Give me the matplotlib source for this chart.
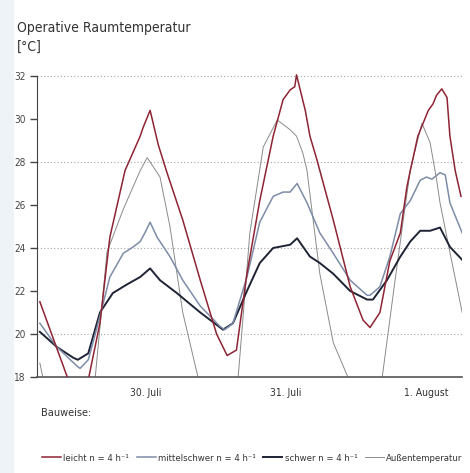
import matplotlib
matplotlib.use("Agg")
import matplotlib.pyplot as plt
from matplotlib import font_manager as fm
from matplotlib.patches import Rectangle

# the original uses a condensed sans; take a narrow face if one is installed
narrow = None
for f in fm.fontManager.ttflist:
    if 'Mono' in f.name or 'Serif' in f.name:
        continue
    if 'Narrow' in f.name or 'Condensed' in f.name or f.stretch in ('condensed', 'semi-condensed'):
        if narrow is None or 'Liberation' in f.name:
            narrow = f
if narrow is not None:
    plt.rcParams['font.family'] = [narrow.name, 'DejaVu Sans']
    plt.rcParams['font.stretch'] = narrow.stretch
else:
    plt.rcParams['font.family'] = ['Roboto', 'DejaVu Sans']

# hours since 29. Juli 0:00, temperatures in degC
red_h = [17.8, 22.5, 24.3, 26.2, 28.1, 29.8, 32.4, 35.0, 35.5, 36.7, 38.1, 39.6, 42.3, 45.3, 48.1, 49.9,
         51.5, 53.3, 55.5, 57.8, 59.5, 60.7, 61.5, 61.8, 63.3, 64.1, 65.3, 66.7, 68.1, 71.0, 73.2, 74.4,
         76.1, 77.8, 79.6, 80.7, 81.3, 81.8, 82.6, 84.4, 85.2, 85.8, 86.7, 87.6, 88.1, 89.0, 90.0]
red_t = [21.5, 18.0, 17.2, 18.0, 20.5, 24.5, 27.6, 29.2, 29.6, 30.4, 28.8, 27.5, 25.3, 22.5, 20.0, 19.0,
         19.25, 22.8, 26.2, 29.2, 30.9, 31.35, 31.5, 32.05, 30.4, 29.2, 28.1, 26.7, 25.3, 22.2, 20.65, 20.3,
         21.0, 23.4, 24.7, 26.8, 27.6, 28.2, 29.2, 30.4, 30.7, 31.1, 31.4, 31.0, 29.2, 27.6, 26.4]

mid_h = [17.8, 20.7, 24.2, 24.7, 26.1, 27.6, 29.8, 32.1, 33.8, 35.0, 35.8, 36.7, 37.9, 40.1, 42.3, 45.3,
         48.7, 49.5, 50.9, 53.3, 55.5, 57.8, 59.5, 60.7, 61.9, 63.6, 65.8, 68.1, 71.0, 73.9, 74.4, 76.1,
         77.8, 79.6, 81.3, 83.0, 84.1, 85.0, 86.4, 87.3, 88.1, 90.2]
mid_t = [20.5, 19.4, 18.5, 18.4, 18.8, 20.3, 22.65, 23.75, 24.05, 24.3, 24.7, 25.2, 24.5, 23.6, 22.5, 21.3,
         20.35, 20.2, 20.5, 22.65, 25.2, 26.4, 26.6, 26.6, 27.0, 26.1, 24.7, 23.75, 22.5, 21.8, 21.8, 22.2,
         23.6, 25.6, 26.2, 27.15, 27.3, 27.2, 27.5, 27.4, 26.1, 24.7]

dark_h = [17.8, 20.7, 23.5, 24.3, 26.1, 28.1, 30.3, 32.7, 35.0, 36.7, 38.4, 41.3, 45.3, 49.2, 50.9, 53.3,
          55.5, 57.8, 60.7, 61.9, 64.1, 65.8, 68.1, 71.0, 73.9, 74.9, 77.3, 79.6, 81.3, 83.0, 84.7, 86.4,
          88.1, 90.2]
dark_t = [20.1, 19.4, 18.9, 18.8, 19.1, 21.0, 21.9, 22.3, 22.65, 23.05, 22.5, 21.9, 21.0, 20.2, 20.5, 22.0,
          23.3, 24.0, 24.15, 24.45, 23.6, 23.3, 22.8, 22.0, 21.6, 21.6, 22.5, 23.6, 24.3, 24.8, 24.8, 24.95,
          24.05, 23.45]

out_h = [17.8, 18.3, 21.0, 24.0, 27.3, 29.3, 32.1, 35.0, 36.2, 38.4, 40.1, 42.3, 44.9, 47.5, 50.0, 51.8,
         53.8, 56.1, 58.5, 60.7, 61.8, 62.9, 63.6, 64.1, 65.8, 68.1, 70.6, 72.5, 75.0, 76.5, 78.4, 80.1,
         81.3, 81.8, 83.3, 84.7, 85.8, 86.4, 88.1, 90.2]
out_t = [18.65, 18.0, 15.0, 14.3, 18.0, 23.8, 25.8, 27.6, 28.2, 27.3, 25.0, 21.0, 18.0, 15.0, 15.0, 18.0,
         24.7, 28.7, 29.95, 29.5, 29.2, 28.4, 27.6, 26.5, 22.8, 19.6, 18.0, 15.5, 15.5, 18.0, 21.9, 25.3,
         27.6, 28.2, 29.8, 28.9, 27.2, 26.1, 23.8, 21.0]

day_pos = [36, 60, 84]
day_labels = ['30. Juli', '31. Juli', '1. August']
y_ticks = [18, 20, 22, 24, 26, 28, 30, 32]
grid_lines = [20, 24, 28, 32]

fig = plt.figure(figsize=(4.70, 4.73), dpi=100)
fig.patches.append(Rectangle((0, 0), 0.028, 1, transform=fig.transFigure,
                             color='#eef3f8', zorder=0))
ax = fig.add_axes([37 / 470, 1 - 377 / 473, 425 / 470, 307.5 / 473])

for g in grid_lines:
    ax.axhline(g, color='#a8a8a8', lw=0.8, ls=(0, (1, 2)), zorder=1)

ax.plot(out_h, out_t, color='#8a8a8a', lw=0.7, label='Außentemperatur', zorder=2)
ax.plot(dark_h, dark_t, color='#1e2435', lw=1.4, label='schwer n = 4 h⁻¹', zorder=3)
ax.plot(mid_h, mid_t, color='#7d8ca8', lw=1.1, label='mittelschwer n = 4 h⁻¹', zorder=3)
ax.plot(red_h, red_t, color='#8e2433', lw=1.1, label='leicht n = 4 h⁻¹', zorder=4)

ax.set_xlim(17.31, 90.17)
ax.set_ylim(18, 32.3)
ax.set_yticks(y_ticks)
ax.set_xticks(day_pos)
ax.set_xticklabels(day_labels)
ax.tick_params(axis='x', length=0, pad=8, labelsize=7.5, colors='#333333')
ax.tick_params(axis='y', length=5, width=1, pad=3, labelsize=7.2, colors='#444444')

for s in ['top', 'right']:
    ax.spines[s].set_visible(False)
ax.spines['left'].set_bounds(18, 32)
ax.spines['left'].set_color('#444444')
ax.spines['bottom'].set_color('#555555')
ax.spines['bottom'].set_linewidth(1.2)

fig.text(17 / 470, 1 - 28 / 473, 'Operative Raumtemperatur', fontsize=10, color='#333333', va='center')
fig.text(17 / 470, 1 - 47 / 473, '[°C]', fontsize=10, color='#333333', va='center')
fig.text(41 / 470, 1 - 413 / 473, 'Bauweise:', fontsize=7.8, color='#333333', va='center')

handles, labels = ax.get_legend_handles_labels()
order = [3, 2, 1, 0]
fig.legend([handles[i] for i in order], [labels[i] for i in order], ncol=4, frameon=False,
           loc='center left', bbox_to_anchor=(42 / 470, 1 - 458 / 473), fontsize=6.8,
           borderpad=0, borderaxespad=0, handlelength=2.0, handletextpad=0.25,
           columnspacing=0.8, labelcolor='#333333')

fig.savefig('out.png', dpi=100)
